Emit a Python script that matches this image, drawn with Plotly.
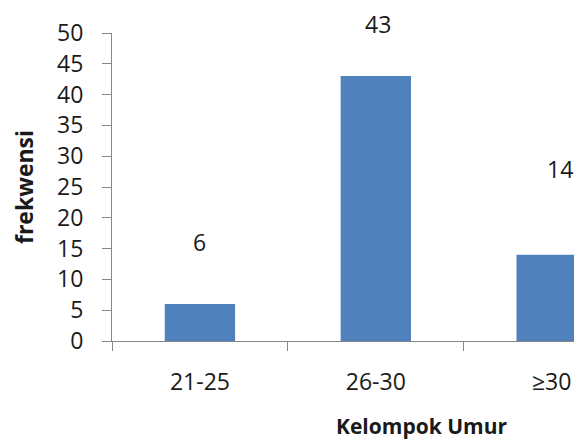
import plotly.graph_objects as go

# Age groups and their frequencies
kelompok = ["21-25", "26-30", "≥30"]
frekwensi = [6, 43, 14]
# pixel lift of each value label above its bar
label_lift = [62, 52, 86]
label_nudge = [0, 2, 8]

y_ticks = list(range(0, 51, 5))

BAR = "#4F81BD"
AXIS = "#868686"
TXT = "#1a1a1a"
FONT = "Open Sans"

fig = go.Figure()
fig.add_trace(go.Bar(
    x=kelompok, y=frekwensi, width=0.4,
    marker=dict(color=BAR, line=dict(width=0)),
    showlegend=False,
))

for k, v, lift, nudge in zip(kelompok, frekwensi, label_lift, label_nudge):
    fig.add_annotation(
        x=k, y=v, text=str(v), showarrow=False,
        yshift=lift, xshift=nudge,
        font=dict(family=FONT, size=23, color=TXT),
        xanchor="center", yanchor="middle",
    )

fig.add_annotation(
    xref="paper", yref="paper", x=0, y=0.5, xshift=-88,
    text="<b>frekwensi</b>", textangle=-90, showarrow=False,
    font=dict(family=FONT, size=23, color=TXT),
    xanchor="center", yanchor="middle",
)
fig.add_annotation(
    xref="paper", yref="paper", x=0.669, y=0, yshift=-85,
    text="<b>Kelompok Umur</b>", showarrow=False,
    font=dict(family=FONT, size=21, color=TXT),
    xanchor="center", yanchor="middle",
)

fig.update_layout(
    width=574, height=443,
    margin=dict(l=112, r=0, t=33, b=102, autoexpand=False),
    plot_bgcolor="white", paper_bgcolor="white",
    font=dict(family=FONT, size=23, color=TXT),
)
fig.update_xaxes(
    type="category", range=[-0.5, 2.127],
    showline=True, linecolor=AXIS, linewidth=1,
    ticks="outside", tickson="boundaries", ticklen=9, tickcolor=AXIS,
    showgrid=False, zeroline=False,
    ticklabelstandoff=20,
    tickfont=dict(family=FONT, size=23, color=TXT),
)
fig.update_yaxes(
    range=[0, 50], tickvals=y_ticks,
    showline=True, linecolor=AXIS, linewidth=1,
    ticks="outside", ticklen=9, tickcolor=AXIS,
    showgrid=False, zeroline=False,
    ticklabelstandoff=14,
    tickfont=dict(family=FONT, size=23, color=TXT),
)

fig.write_html("out.html")
